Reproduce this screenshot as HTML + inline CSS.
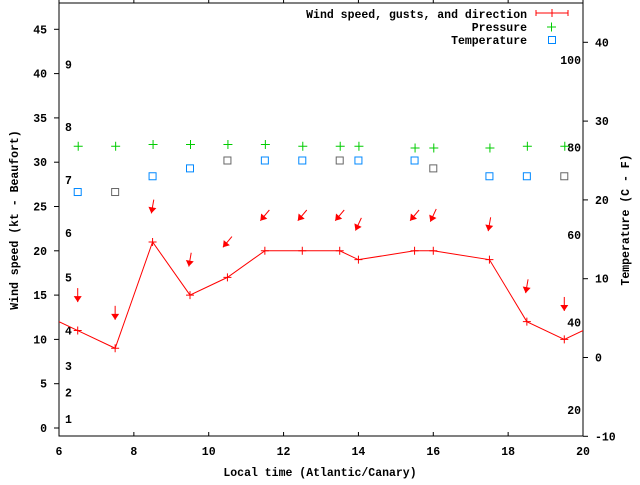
<!DOCTYPE html>
<html><head><meta charset="utf-8"><style>
body{margin:0;background:#fff}
svg text{font-family:"Liberation Mono",monospace;font-weight:bold;font-size:11.5px;fill:#000}
</style></head><body>
<svg id="chart" width="640" height="480" viewBox="0 0 640 480" xmlns="http://www.w3.org/2000/svg">
<g id="grid"></g>
<g id="marks"></g>
</svg>
<script>
const times=[6.5,7.5,8.5,9.5,10.5,11.5,12.5,13.5,14,15.5,16,17.5,18.5,19.5];
const speeds=[11,9,21,15,17,20,20,20,19,20,20,19,12,10];
const gusts=[15,13,25,19,21,24,24,24,23,24,24,23,16,14];
const directions=[0,0,10,10,40,40,40,40,25,40,25,10,10,0];
const pressure=[31.8,31.8,32,32,32,32,31.8,31.8,31.8,31.6,31.6,31.6,31.8,31.8];
const temperature=[21,21,23,24,25,25,25,25,25,25,24,23,23,23];
const tempEstimated=[0,1,0,0,1,0,0,1,0,0,1,0,0,1];
const edgeTimes=[5.5,20.5];
const edgeSpeeds=[13,12];
const xTicks=[6,8,10,12,14,16,18,20];
const ktTicks=[0,5,10,15,20,25,30,35,40,45];
const cTicks=[-10,0,10,20,30,40];
const fTicks=[20,40,60,80,100];
const bftLabels=[1,2,3,4,5,6,7,8,9];
const bftKt=[1.0,4.0,7.0,11.0,17.0,22.0,28.0,34.0,41.0];

const L=59,R=583,T=3,B=436;
const X=t=>L+(t-6)/14*(R-L);
const Y=k=>428-k*8.86;
const YC=c=>357.5-c*7.88;
const NS="http://www.w3.org/2000/svg";
const g=document.getElementById('grid'),m=document.getElementById('marks');
function el(tag,at,parent,txt){const e=document.createElementNS(NS,tag);for(const k in at)e.setAttribute(k,at[k]);if(txt!==undefined)e.textContent=txt;(parent||g).appendChild(e);return e;}

let e=el('rect',{x:L,y:T,width:R-L,height:B-T,fill:'none',stroke:'#000','stroke-width':1});


xTicks.forEach(t=>{
  el('line',{x1:X(t),x2:X(t),y1:B,y2:B-4,stroke:'#000'});
  el('line',{x1:X(t),x2:X(t),y1:T,y2:T-4,stroke:'#000'});
  const tx=el('text',{x:X(t),y:B+19,'text-anchor':'middle'},g,t);
  
  
});
ktTicks.forEach(k=>{
  el('line',{x1:L-5,x2:L,y1:Y(k),y2:Y(k),stroke:'#000'});
  const tx=el('text',{x:L-12,y:Y(k)+4,'text-anchor':'end'},g,k);
  
  
});
cTicks.forEach(c=>{
  el('line',{x1:R,x2:R+5,y1:YC(c),y2:YC(c),stroke:'#000'});
  const tx=el('text',{x:R+12,y:YC(c)+4,'text-anchor':'start'},g,c);
  
  
});
fTicks.forEach(f=>{
  const tx=el('text',{x:R-2,y:YC((f-32)*5/9)+4,'text-anchor':'end'},g,f);
  
  
});
bftLabels.forEach((b,i)=>{
  const tx=el('text',{x:65,y:Y(bftKt[i])+4},g,b);
  
  
});
e=el('text',{x:320,y:476,'text-anchor':'middle'},g,'Local time (Atlantic/Canary)');


e=el('text',{x:18,y:220,'text-anchor':'middle',transform:'rotate(-90 18 220)'},g,'Wind speed (kt - Beaufort)');


e=el('text',{x:629,y:220,'text-anchor':'middle',transform:'rotate(-90 629 220)'},g,'Temperature (C - F)');



// clip
const defs=el('defs',{},m);const cp=el('clipPath',{id:'c'},defs);el('rect',{x:L,y:T,width:R-L,height:B-T},cp);
const clipG=el('g',{'clip-path':'url(#c)'},m);
const allT=[edgeTimes[0],...times,edgeTimes[1]],allS=[edgeSpeeds[0],...speeds,edgeSpeeds[1]];
e=el('polyline',{points:allT.map((t,i)=>X(t)+','+Y(allS[i])).join(' '),fill:'none',stroke:'#f00','stroke-width':1},clipG);


times.forEach((t,i)=>{
  const x=X(t),y=Y(speeds[i]);
  const p=el('path',{d:`M${x-4},${y}h8M${x},${y-4}v8`,stroke:'#f00'},m);
  
  
  // arrow
  const cx=x,cy=Y(gusts[i]),a=directions[i]*Math.PI/180,dx=-Math.sin(a),dy=Math.cos(a);
  const tx=cx+dx*7,ty=cy+dy*7,sx=cx-dx*7,sy=cy-dy*7,px=-dy,py=dx;
  const ar=el('g',{},m);
  
  
  el('line',{x1:sx,y1:sy,x2:tx,y2:ty,stroke:'#f00'},ar);
  el('polygon',{points:`${tx},${ty} ${tx-dx*6+px*4},${ty-dy*6+py*4} ${tx-dx*6-px*4},${ty-dy*6-py*4}`,fill:'#f00'},ar);
  const pr=el('path',{d:`M${x-4},${Y(pressure[i])}h9M${x+0.5},${Y(pressure[i])-4.5}v9`,stroke:'#0c0'},m);
  
  
  const sq=el('rect',{x:x-3.5,y:YC(temperature[i])-3.5,width:7,height:7,fill:'none',stroke:tempEstimated[i]?'#666':'#08f'},m);
  
  
});
// legend
const lg=el('g',{},m);


el('text',{x:527,y:18,'text-anchor':'end'},lg,'Wind speed, gusts, and direction');
el('path',{d:'M536,13h32M536,10v6M568,10v6M552,9v8',stroke:'#f00'},lg);
el('text',{x:527,y:31,'text-anchor':'end'},lg,'Pressure');
el('path',{d:'M547,27h9M551.5,22.5v9',stroke:'#0c0'},lg);
el('text',{x:527,y:44,'text-anchor':'end'},lg,'Temperature');
el('rect',{x:548.5,y:36.5,width:7,height:7,fill:'none',stroke:'#08f'},lg);
</script>
</body></html>
